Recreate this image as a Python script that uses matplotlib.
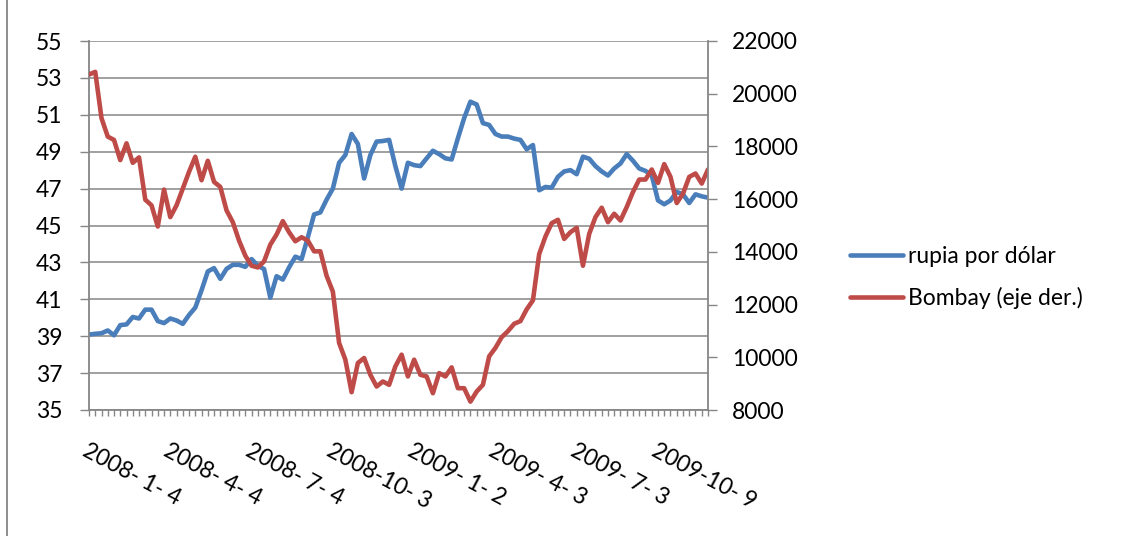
import numpy as np
import matplotlib.pyplot as plt
from matplotlib.lines import Line2D

plt.rcParams['font.family'] = ['Lato', 'DejaVu Sans']

# semanas desde 2008-01-04, etiqueta cada 13 semanas
fechas = ['2008- 1- 4', '2008- 4- 4', '2008- 7- 4', '2008-10- 3',
          '2009- 1- 2', '2009- 4- 3', '2009- 7- 3', '2009-10- 9']

rupia = [39.09, 39.13, 39.16, 39.31, 39.05, 39.60, 39.64, 40.04, 39.96, 40.44,
         40.44, 39.82, 39.71, 39.96, 39.85, 39.67, 40.15, 40.55, 41.49, 42.51,
         42.69, 42.11, 42.65, 42.87, 42.87, 42.76, 43.18, 42.82, 42.64, 41.09,
         42.25, 42.07, 42.73, 43.31, 43.18, 44.36, 45.60, 45.71, 46.40, 47.00,
         48.40, 48.82, 49.96, 49.42, 47.55, 48.82, 49.55, 49.58, 49.64, 48.22,
         47.00, 48.40, 48.27, 48.22, 48.64, 49.05, 48.87, 48.64, 48.58, 49.73,
         50.82, 51.71, 51.56, 50.55, 50.45, 49.96, 49.82, 49.82, 49.71, 49.64,
         49.13, 49.36, 46.91, 47.09, 47.05, 47.64, 47.93, 48.00, 47.78, 48.73,
         48.62, 48.22, 47.93, 47.71, 48.09, 48.36, 48.87, 48.51, 48.09, 47.96,
         47.73, 46.36, 46.15, 46.36, 46.82, 46.69, 46.22, 46.69, 46.58, 46.51]

bombay = [20727, 20829, 19073, 18373, 18246, 17482, 18118, 17380, 17584, 15980,
          15764, 14962, 16362, 15318, 15764, 16400, 17036, 17609, 16718, 17456,
          16655, 16464, 15573, 15127, 14427, 13855, 13473, 13409, 13638, 14275,
          14657, 15166, 14746, 14402, 14555, 14427, 14020, 14020, 13091, 12493,
          10545, 9909, 8675, 9782, 9973, 9336, 8891, 9082, 8955, 9655,
          10100, 9273, 9909, 9336, 9273, 8636, 9400, 9273, 9617, 8827,
          8827, 8318, 8700, 8955, 10036, 10355, 10762, 10991, 11271, 11373,
          11818, 12162, 13918, 14580, 15089, 15216, 14491, 14746, 14911, 13473,
          14682, 15318, 15675, 15127, 15446, 15191, 15700, 16273, 16744, 16744,
          17125, 16616, 17329, 16845, 15853, 16209, 16845, 16973, 16591, 17125]

AZUL = '#4A7EBB'
ROJO = '#BE4B48'
GRIS = '#868686'
FS = 16.5

W, H = 1121, 536
fig = plt.figure(figsize=(W / 100, H / 100), dpi=100)
ax = fig.add_axes([89 / W, 1 - 410 / H, (708 - 89) / W, (410 - 41) / H])

x = np.arange(len(rupia))
l1, = ax.plot(x, rupia, color=AZUL, lw=3.3, solid_joinstyle='round',
              solid_capstyle='round', label='rupia por dólar')
ax.set_xlim(0, len(x) - 1)
ax.set_ylim(35, 55)
ax.set_yticks(np.arange(35, 56, 2))
ax.grid(axis='y', color=GRIS, lw=1.1)
ax.set_axisbelow(True)

etiquetas = [''] * len(x)
for k, f in enumerate(fechas):
    etiquetas[13 * k] = f
ax.set_xticks(x)
ax.set_xticklabels(etiquetas, rotation=-28, ha='left', va='top',
                   rotation_mode='anchor')

ax2 = ax.twinx()
l2, = ax2.plot(x, bombay, color=ROJO, lw=3.3, solid_joinstyle='round',
               solid_capstyle='round', label='Bombay (eje der.)')
ax2.set_ylim(8000, 22000)
ax2.set_yticks(np.arange(8000, 22001, 2000))

for s in ['top']:
    ax.spines[s].set_visible(False)
for s in ['top', 'left', 'bottom']:
    ax2.spines[s].set_visible(False)
for s in ['left', 'bottom']:
    ax.spines[s].set_color(GRIS)
    ax.spines[s].set_linewidth(1.3)
ax.spines['right'].set_visible(False)
ax2.spines['right'].set_color(GRIS)
ax2.spines['right'].set_linewidth(1.3)

ax.tick_params(axis='y', length=6.2, width=1, color=GRIS, pad=13, labelsize=FS)
ax.tick_params(axis='x', length=4.5, width=1, color=GRIS, pad=17, labelsize=FS)
ax2.tick_params(axis='y', length=6.5, width=1, color=GRIS, pad=11, labelsize=FS)

fig.legend([l1, l2], [l1.get_label(), l2.get_label()], loc='center left',
           bbox_to_anchor=(850 / W, 1 - 277.5 / H), frameon=False, fontsize=FS,
           handlelength=2.3, handletextpad=0.25, labelspacing=0.9,
           borderpad=0, borderaxespad=0)

# borde del area del grafico
fig.add_artist(Line2D([7 / W, 7 / W], [0, 1], transform=fig.transFigure,
                      color=GRIS, lw=1.3))

fig.savefig('out.png', dpi=100)
